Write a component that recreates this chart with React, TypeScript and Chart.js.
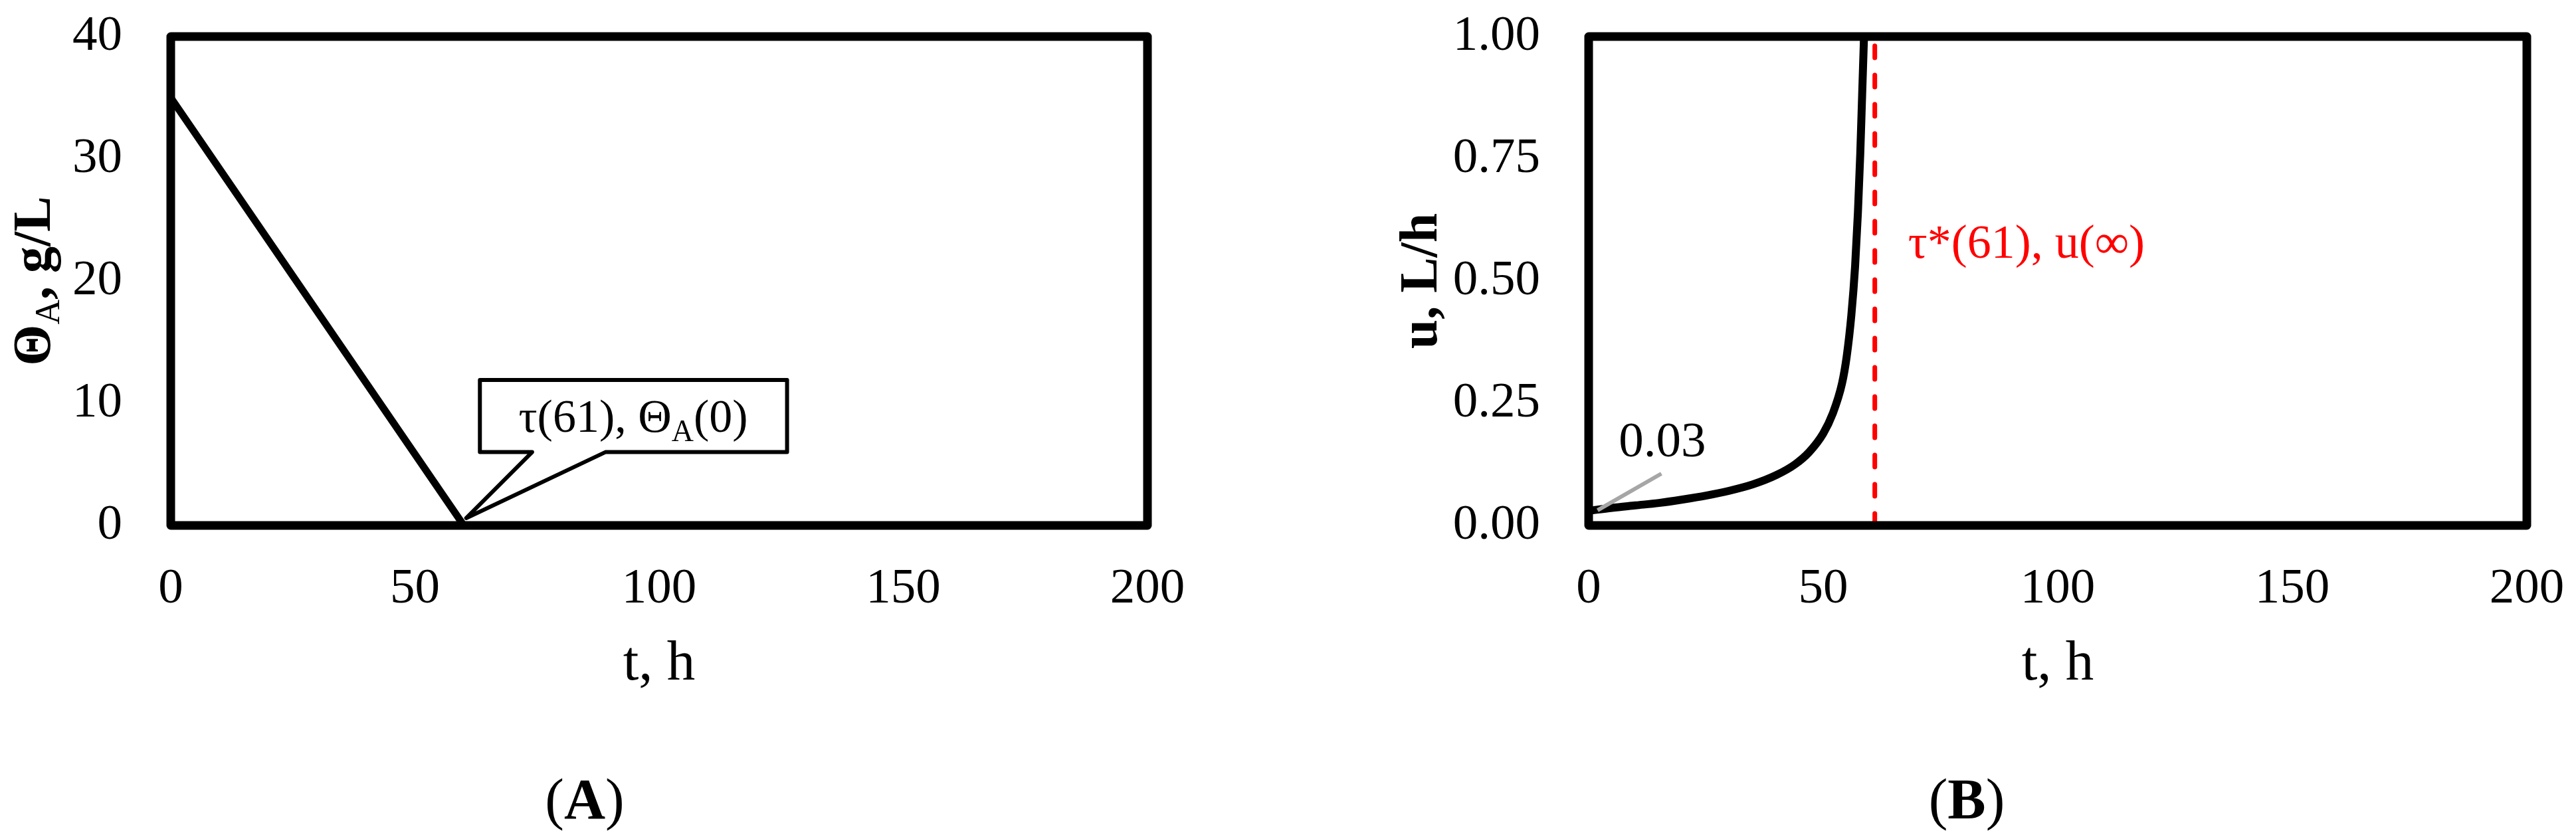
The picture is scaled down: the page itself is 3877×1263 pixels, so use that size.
import React, { useEffect, useRef } from "react";
import { Chart, registerables } from "chart.js";

Chart.register(...registerables);

const FONT = '"Liberation Serif", "Times New Roman", Times, serif';

// ---------- Panel A data ----------
const thetaTime = [0, 60, 200];
const thetaValue = [35, 0, 0];
const xMinA = 0, xMaxA = 200, xStepA = 50;
const yMinA = 0, yMaxA = 40, yStepA = 10;

// callout in data coordinates (t, g/L)
const calloutBoxX = [63.3, 126.2];
const calloutBoxY = [6.0, 11.9];
const calloutPointerX = [74, 89];
const calloutTip = [60.5, 0.6];
const calloutTextAt = [94.7, 7.66];

// ---------- Panel B data ----------
const uTime = [0, 5, 10, 15, 20, 25, 30, 35, 40, 44, 47, 50, 52, 54, 55, 56, 56.8, 57.4, 57.9, 58.3, 58.7];
const uValue = [0.03, 0.036, 0.041, 0.046, 0.053, 0.061, 0.071, 0.084, 0.103, 0.125, 0.15, 0.188, 0.228, 0.29, 0.345, 0.43, 0.53, 0.64, 0.76, 0.88, 1.0];
const tauStar = 61;
const tauLineU = [0, 1];
const leaderTime = [1.9, 15.5];
const leaderU = [0.031, 0.106];
const label003At = [6.4, 0.141];
const redLabelAt = [68.1, 0.548];
const xMinB = 0, xMaxB = 200, xStepB = 50;
const yMinB = 0, yMaxB = 1, yStepB = 0.25;

type Run = { text: string; size: number; bold?: boolean; dy?: number };

function fontStr(r: Run) {
  return `${r.bold ? "bold " : ""}${r.size}px ${FONT}`;
}

function drawRuns(ctx: CanvasRenderingContext2D, runs: Run[], x: number, y: number, align: "left" | "center", color: string) {
  const widths = runs.map((r) => {
    ctx.font = fontStr(r);
    return ctx.measureText(r.text).width;
  });
  const total = widths.reduce((a, b) => a + b, 0);
  let cx = align === "center" ? x - total / 2 : x;
  ctx.fillStyle = color;
  ctx.textAlign = "left";
  ctx.textBaseline = "alphabetic";
  runs.forEach((r, i) => {
    ctx.font = fontStr(r);
    ctx.fillText(r.text, cx, y + (r.dy || 0));
    cx += widths[i];
  });
}

function drawRotated(ctx: CanvasRenderingContext2D, runs: Run[], bx: number, cy: number) {
  ctx.save();
  ctx.translate(bx, cy);
  ctx.rotate(-Math.PI / 2);
  drawRuns(ctx, runs, 0, 0, "center", "#000");
  ctx.restore();
}

type PanelCfg = {
  width: number;
  areaLeft: number;
  areaRight: number;
  areaTop: number;
  areaBottom: number;
  datasets: any[];
  xMin: number; xMax: number; xStep: number;
  yMin: number; yMax: number; yStep: number;
  yFmt: (v: number) => string;
  extra: (chart: any) => void;
  yTitle: Run[];
  yTitleX: number;
  panelLabel: Run[];
  panelLabelX: number;
};

const HEIGHT = 1263;

function zeroPad(s: any) {
  s.paddingTop = 0;
  s.paddingBottom = 0;
  s.paddingLeft = 0;
  s.paddingRight = 0;
}

function makeChart(canvas: HTMLCanvasElement, cfg: PanelCfg) {
  const framePlugin = {
    id: "framePlugin",
    afterDatasetsDraw(chart: any) {
      const ctx: CanvasRenderingContext2D = chart.ctx;
      const a = chart.chartArea;
      ctx.save();
      cfg.extra(chart);
      ctx.restore();
      ctx.save();
      ctx.strokeStyle = "#000";
      ctx.lineWidth = 13;
      ctx.lineJoin = "round";
      ctx.strokeRect(a.left, a.top, a.right - a.left, a.bottom - a.top);
      ctx.restore();
      ctx.save();
      drawRuns(ctx, [{ text: "t, h", size: 85 }], (a.left + a.right) / 2, 1023, "center", "#000");
      drawRotated(ctx, cfg.yTitle, cfg.yTitleX, (a.top + a.bottom) / 2);
      drawRuns(ctx, cfg.panelLabel, cfg.panelLabelX, 1232, "center", "#000");
      ctx.restore();
    },
  };

  const chart = new Chart(canvas, {
    type: "line",
    data: { datasets: cfg.datasets },
    plugins: [framePlugin],
    options: {
      animation: false,
      responsive: false,
      maintainAspectRatio: false,
      devicePixelRatio: 1,
      layout: {
        padding: { left: 0, top: cfg.areaTop, right: cfg.width - cfg.areaRight, bottom: 0 },
      },
      plugins: { legend: { display: false }, tooltip: { enabled: false }, title: { display: false } },
      elements: { point: { radius: 0, hoverRadius: 0 } },
      scales: {
        x: {
          type: "linear",
          min: cfg.xMin,
          max: cfg.xMax,
          grid: { display: false },
          border: { display: false },
          ticks: {
            stepSize: cfg.xStep,
            padding: 43,
            maxRotation: 0,
            autoSkip: false,
            color: "#000",
            font: { family: FONT, size: 75 },
          },
          afterFit: (s: any) => {
            s.height = HEIGHT - cfg.areaBottom;
            zeroPad(s);
          },
        },
        y: {
          type: "linear",
          min: cfg.yMin,
          max: cfg.yMax,
          grid: { display: false },
          border: { display: false },
          ticks: {
            stepSize: cfg.yStep,
            padding: 65,
            autoSkip: false,
            color: "#000",
            font: { family: FONT, size: 75 },
            callback: (v: any) => cfg.yFmt(Number(v)),
          },
          afterFit: (s: any) => {
            s.width = cfg.areaLeft;
            zeroPad(s);
          },
        },
      },
    } as any,
  });
  return chart;
}

function drawCallout(chart: any) {
  const ctx: CanvasRenderingContext2D = chart.ctx;
  const xs = chart.scales.x;
  const ys = chart.scales.y;
  const px = (v: number) => xs.getPixelForValue(v);
  const py = (v: number) => ys.getPixelForValue(v);
  ctx.beginPath();
  ctx.moveTo(px(calloutBoxX[0]), py(calloutBoxY[0]));
  ctx.lineTo(px(calloutPointerX[0]), py(calloutBoxY[0]));
  ctx.lineTo(px(calloutTip[0]), py(calloutTip[1]));
  ctx.lineTo(px(calloutPointerX[1]), py(calloutBoxY[0]));
  ctx.lineTo(px(calloutBoxX[1]), py(calloutBoxY[0]));
  ctx.lineTo(px(calloutBoxX[1]), py(calloutBoxY[1]));
  ctx.lineTo(px(calloutBoxX[0]), py(calloutBoxY[1]));
  ctx.closePath();
  ctx.fillStyle = "#fff";
  ctx.fill();
  ctx.strokeStyle = "#000";
  ctx.lineWidth = 6;
  ctx.lineJoin = "round";
  ctx.stroke();
  drawRuns(
    ctx,
    [
      { text: "τ(61), Θ", size: 70 },
      { text: "A", size: 46, dy: 14 },
      { text: "(0)", size: 70 },
    ],
    px(calloutTextAt[0]),
    py(calloutTextAt[1]),
    "center",
    "#000"
  );
}

function drawBLabels(chart: any) {
  const ctx: CanvasRenderingContext2D = chart.ctx;
  const xs = chart.scales.x;
  const ys = chart.scales.y;
  drawRuns(ctx, [{ text: "0.03", size: 75 }], xs.getPixelForValue(label003At[0]), ys.getPixelForValue(label003At[1]), "left", "#000");
  drawRuns(ctx, [{ text: "τ*(61), u(∞)", size: 72 }], xs.getPixelForValue(redLabelAt[0]), ys.getPixelForValue(redLabelAt[1]), "left", "#FF0000");
}

export default function App() {
  const refA = useRef<HTMLCanvasElement | null>(null);
  const refB = useRef<HTMLCanvasElement | null>(null);

  useEffect(() => {
    const chartA = makeChart(refA.current!, {
      width: 1940,
      areaLeft: 257,
      areaRight: 1727,
      areaTop: 55,
      areaBottom: 791,
      datasets: [
        {
          data: thetaTime.map((t, i) => ({ x: t, y: thetaValue[i] })),
          borderColor: "#000",
          borderWidth: 11,
          tension: 0,
          pointRadius: 0,
          fill: false,
        },
      ],
      xMin: xMinA, xMax: xMaxA, xStep: xStepA,
      yMin: yMinA, yMax: yMaxA, yStep: yStepA,
      yFmt: (v) => String(v),
      extra: drawCallout,
      yTitle: [
        { text: "Θ", size: 80, bold: true },
        { text: "A", size: 52, dy: 14 },
        { text: ", g/L", size: 80, bold: true },
      ],
      yTitleX: 75,
      panelLabel: [
        { text: "(", size: 86 },
        { text: "A", size: 86, bold: true },
        { text: ")", size: 86 },
      ],
      panelLabelX: 880,
    });

    const chartB = makeChart(refB.current!, {
      width: 1937,
      areaLeft: 451,
      areaRight: 1863,
      areaTop: 55,
      areaBottom: 791,
      datasets: [
        {
          data: leaderTime.map((t, i) => ({ x: t, y: leaderU[i] })),
          borderColor: "#A6A6A6",
          borderWidth: 6,
          tension: 0,
          pointRadius: 0,
          order: 0,
        },
        {
          data: uTime.map((t, i) => ({ x: t, y: uValue[i] })),
          borderColor: "#000",
          borderWidth: 12,
          cubicInterpolationMode: "monotone",
          pointRadius: 0,
          order: 1,
        },
        {
          data: tauLineU.map((u) => ({ x: tauStar, y: u })),
          borderColor: "#FF0000",
          borderWidth: 7,
          borderDash: [18, 26],
          borderCapStyle: "round",
          tension: 0,
          pointRadius: 0,
          order: 2,
        },
      ],
      xMin: xMinB, xMax: xMaxB, xStep: xStepB,
      yMin: yMinB, yMax: yMaxB, yStep: yStepB,
      yFmt: (v) => v.toFixed(2),
      extra: drawBLabels,
      yTitle: [{ text: "u, L/h", size: 80, bold: true }],
      yTitleX: 222,
      panelLabel: [
        { text: "(", size: 86 },
        { text: "B", size: 86, bold: true },
        { text: ")", size: 86 },
      ],
      panelLabelX: 1020,
    });

    return () => {
      chartA.destroy();
      chartB.destroy();
    };
  }, []);

  return (
    <div style={{ position: "absolute", left: 0, top: 0, width: 3877, height: HEIGHT, background: "#fff", overflow: "hidden" }}>
      <canvas ref={refA} width={1940} height={HEIGHT} style={{ position: "absolute", left: 0, top: 0, width: 1940, height: HEIGHT }} />
      <canvas ref={refB} width={1937} height={HEIGHT} style={{ position: "absolute", left: 1940, top: 0, width: 1937, height: HEIGHT }} />
    </div>
  );
}
